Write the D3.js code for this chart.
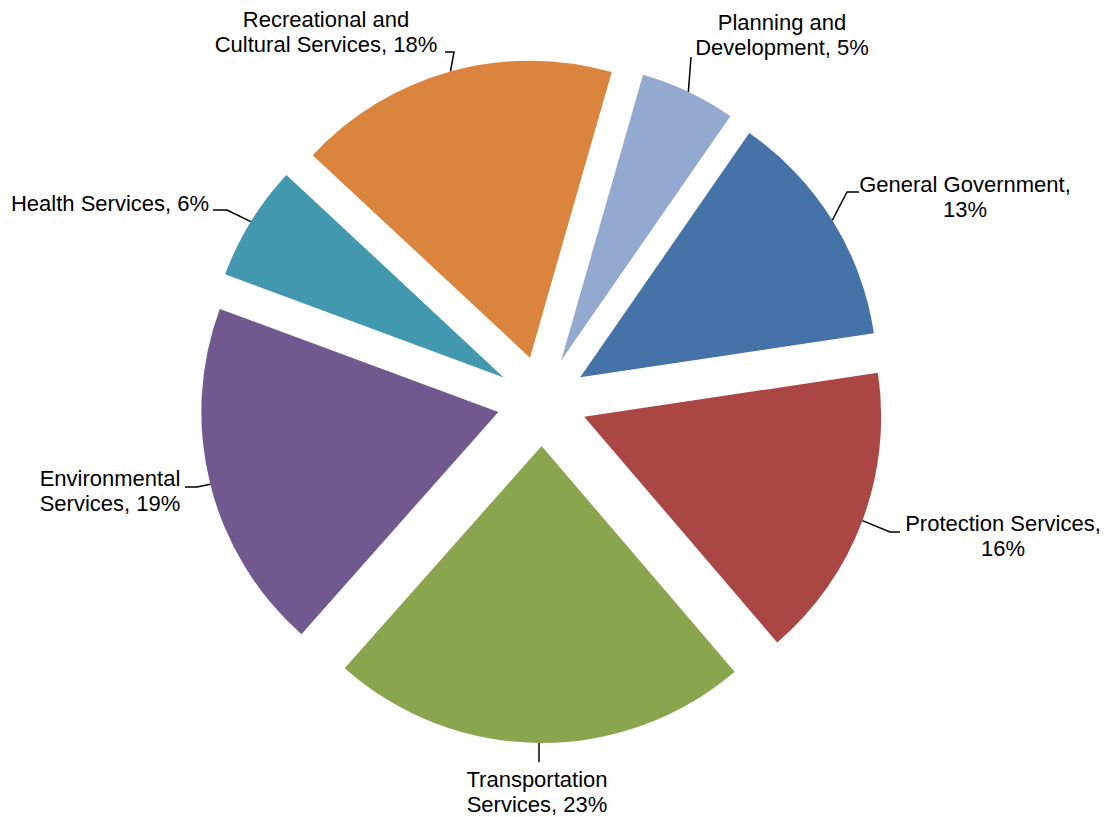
<!DOCTYPE html>
<html>
<head>
<meta charset="utf-8">
<script src="https://cdn.jsdelivr.net/npm/d3@7"></script>
<style>
  body { margin: 0; background: #fff; }
  .pie-label { font-family: "Liberation Sans", Arial, sans-serif; font-size: 22px; fill: #000; }
  .leader { fill: none; stroke: #000; stroke-width: 1.5; }
</style>
</head>
<body>
<div id="chart"></div>
<script>
// Dados (percentuais lidos da figura, no sentido horário)
const categories = [
  'General Government',
  'Protection Services',
  'Transportation Services',
  'Environmental Services',
  'Health Services',
  'Recreational and Cultural Services',
  'Planning and Development'
];
const values = [13.0, 16.1, 22.8, 19.1, 6.3, 17.5, 5.2];
const colors = ['#4572A7', '#AA4643', '#89A54E', '#71588F', '#4198AF', '#DB843D', '#93A9CF'];

// Posição dos rótulos: centro x, linha de base y, quebra de linha (nº de palavras), cotovelo e fim da linha guia
const labelLayout = [
  { x: 965, y: 192, brk: 2, pts: [[847, 192], [859, 192]] },
  { x: 1003, y: 531, brk: 2, pts: [[890, 532], [900, 532]] },
  { x: 537, y: 787, brk: 1, pts: [[539, 762]] },
  { x: 110, y: 486, brk: 1, pts: [[197, 487], [185, 487]] },
  { x: 110, y: 211, brk: 0, pts: [[227, 210], [213, 210]] },
  { x: 326, y: 27, brk: 2, pts: [[454, 52], [445, 52]] },
  { x: 782, y: 30, brk: 2, pts: [[691, 57]] }
];

const width = 1107, height = 817;
const cx = 542, cy = 401, radius = 297, explode = 45;
const lineHeight = 25;

const svg = d3.select('#chart').append('svg')
  .attr('width', width)
  .attr('height', height)
  .attr('viewBox', `0 0 ${width} ${height}`);

const startAngle = 34.7 * Math.PI / 180;
const pie = d3.pie().sort(null).startAngle(startAngle).endAngle(startAngle + 2 * Math.PI);
const arc = d3.arc().innerRadius(0).outerRadius(radius);
const arcs = pie(values);

const g = svg.append('g').attr('transform', `translate(${cx},${cy})`);

function offset(d) {
  const mid = (d.startAngle + d.endAngle) / 2;
  return [explode * Math.sin(mid), -explode * Math.cos(mid)];
}

g.selectAll('path.slice').data(arcs).enter().append('path')
  .attr('class', 'slice')
  .attr('d', arc)
  .attr('fill', (d, i) => colors[i])
  .attr('transform', d => `translate(${offset(d)})`);

// Linhas guia
arcs.forEach((d, i) => {
  const mid = (d.startAngle + d.endAngle) / 2;
  const [ox, oy] = offset(d);
  const start = [cx + ox + radius * Math.sin(mid), cy + oy - radius * Math.cos(mid)];
  const pts = [start].concat(labelLayout[i].pts);
  svg.append('path').attr('class', 'leader').attr('d', d3.line()(pts));
});

// Rótulos
arcs.forEach((d, i) => {
  const lay = labelLayout[i];
  const words = `${categories[i]}, ${Math.round(values[i])}%`.split(' ');
  const lines = lay.brk ? [words.slice(0, lay.brk).join(' '), words.slice(lay.brk).join(' ')] : [words.join(' ')];
  const t = svg.append('text').attr('class', 'pie-label').attr('text-anchor', 'middle');
  lines.forEach((ln, k) => {
    t.append('tspan').attr('x', lay.x).attr('y', lay.y + k * lineHeight).text(ln);
  });
});
</script>
</body>
</html>
